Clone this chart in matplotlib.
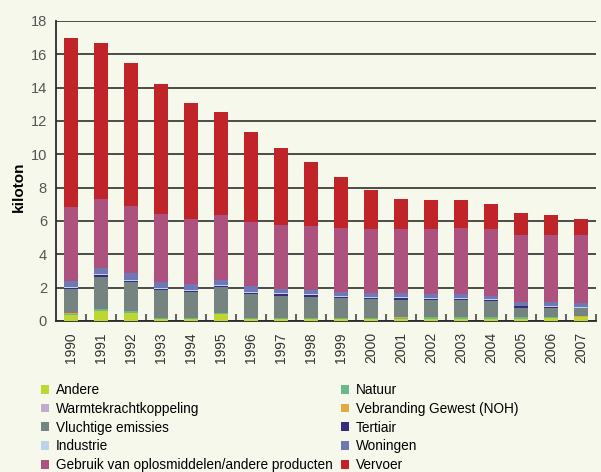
import numpy as np
import matplotlib
matplotlib.use("Agg")
import matplotlib.pyplot as plt
from matplotlib.patches import Patch

# ── data (kiloton per sector, stacked bottom → top) ─────────────────────────
years = list(range(1990, 2008))

andere     = [0.36, 0.60, 0.50, 0.12, 0.10, 0.44, 0.10, 0.10, 0.10, 0.12, 0.10, 0.12, 0.12, 0.12, 0.12, 0.12, 0.18, 0.24]
natuur     = [0.06, 0.12, 0.10, 0.08, 0.10, 0.06, 0.10, 0.10, 0.10, 0.08, 0.06, 0.06, 0.12, 0.12, 0.12, 0.12, 0.06, 0.00]
verbranding = [0.06, 0.00, 0.00, 0.00, 0.00, 0.00, 0.00, 0.00, 0.00, 0.00, 0.00, 0.06, 0.00, 0.00, 0.00, 0.00, 0.00, 0.08]
wkk        = [0.02, 0.00, 0.00, 0.00, 0.00, 0.00, 0.00, 0.00, 0.00, 0.00, 0.00, 0.00, 0.00, 0.00, 0.00, 0.00, 0.00, 0.00]
vluchtig   = [1.42, 1.92, 1.74, 1.66, 1.54, 1.56, 1.42, 1.32, 1.26, 1.20, 1.18, 1.02, 1.04, 1.04, 0.96, 0.54, 0.54, 0.48]
tertiair   = [0.08, 0.10, 0.06, 0.06, 0.06, 0.06, 0.06, 0.08, 0.10, 0.06, 0.06, 0.14, 0.06, 0.06, 0.06, 0.12, 0.06, 0.00]
industrie  = [0.06, 0.08, 0.06, 0.08, 0.08, 0.06, 0.08, 0.06, 0.08, 0.04, 0.06, 0.02, 0.06, 0.06, 0.06, 0.00, 0.04, 0.06]
woningen   = [0.34, 0.38, 0.42, 0.36, 0.36, 0.30, 0.36, 0.26, 0.24, 0.24, 0.22, 0.26, 0.24, 0.24, 0.20, 0.24, 0.26, 0.22]
gebruik    = [4.44, 4.12, 4.02, 4.06, 3.88, 3.88, 3.82, 3.84, 3.82, 3.84, 3.84, 3.84, 3.88, 3.94, 4.00, 4.02, 4.02, 4.08]
vervoer    = [10.12, 9.36, 8.58, 7.80, 6.96, 6.18, 5.40, 4.64, 3.84, 3.06, 2.34, 1.80, 1.74, 1.68, 1.50, 1.32, 1.20, 0.96]

# stacking order with label + colour
layers = [
    ("Andere",                                    andere,      "#c0d630"),
    ("Natuur",                                    natuur,      "#6bb88a"),
    ("Vebranding Gewest (NOH)",                   verbranding, "#e2aa3e"),
    ("Warmtekrachtkoppeling",                     wkk,         "#c4a9cc"),
    ("Vluchtige emissies",                        vluchtig,    "#758381"),
    ("Tertiair",                                  tertiair,    "#382a7e"),
    ("Industrie",                                 industrie,   "#bcd3ee"),
    ("Woningen",                                  woningen,    "#6f78b5"),
    ("Gebruik van oplosmiddelen/andere producten", gebruik,    "#ad527e"),
    ("Vervoer",                                   vervoer,     "#c12428"),
]

left_col  = ["Andere", "Warmtekrachtkoppeling", "Vluchtige emissies", "Industrie",
             "Gebruik van oplosmiddelen/andere producten"]
right_col = ["Natuur", "Vebranding Gewest (NOH)", "Tertiair", "Woningen", "Vervoer"]

BG = "#f6f8ec"
plt.rcParams["font.family"] = ["Liberation Sans", "DejaVu Sans"]

fig = plt.figure(figsize=(6.01, 4.72), dpi=100, facecolor=BG)
ax = fig.add_axes([56 / 601, 1 - 321 / 472, 540 / 601, 300 / 472], facecolor=BG)

x = np.arange(len(years))
bottom = np.zeros(len(years))
colors = {}
for name, vals, col in layers:
    vals = np.asarray(vals)
    ax.bar(x, vals, width=0.47, bottom=bottom, color=col, linewidth=0, zorder=3)
    bottom += vals
    colors[name] = col

ax.set_xlim(-0.5, len(years) - 0.5)
ax.set_ylim(0, 18)
ax.set_yticks(range(0, 19, 2))
ax.yaxis.grid(True, color="#3d3d3a", linewidth=1.3, zorder=0)
ax.set_axisbelow(True)

for s in ("top", "right"):
    ax.spines[s].set_visible(False)
for s in ("left", "bottom"):
    ax.spines[s].set_color("#2a2a2a")
    ax.spines[s].set_linewidth(1.3)

ax.tick_params(axis="y", length=0, pad=6.5, labelsize=10.5, labelcolor="#555555")
ax.set_xticks(x)
ax.set_xticklabels([str(y) for y in years], rotation=90, fontsize=10, color="#333333")
ax.tick_params(axis="x", which="major", length=0, pad=8)
ax.set_xticks(np.arange(0.5, len(years), 1), minor=True)
ax.tick_params(axis="x", which="minor", direction="in", length=5, width=1.3, color="#555555")

ax.set_ylabel("kiloton", fontsize=11, fontweight="bold")
ax.yaxis.set_label_coords(-0.055, 0.447)

# ── legend: two columns placed separately ───────────────────────────────────
for names, x0 in ((left_col, 41 / 601), (right_col, 341 / 601)):
    handles = [Patch(facecolor=colors[n], edgecolor="none", label=n) for n in names]
    fig.legend(handles=handles, loc="upper left", bbox_to_anchor=(x0, 1 - 383 / 472),
               frameon=False, ncol=1, handlelength=0.6, handleheight=0.6,
               handletextpad=0.5, labelspacing=0.35, borderpad=0, borderaxespad=0,
               fontsize=9.8)

fig.savefig("out.png", dpi=100, facecolor=BG)
